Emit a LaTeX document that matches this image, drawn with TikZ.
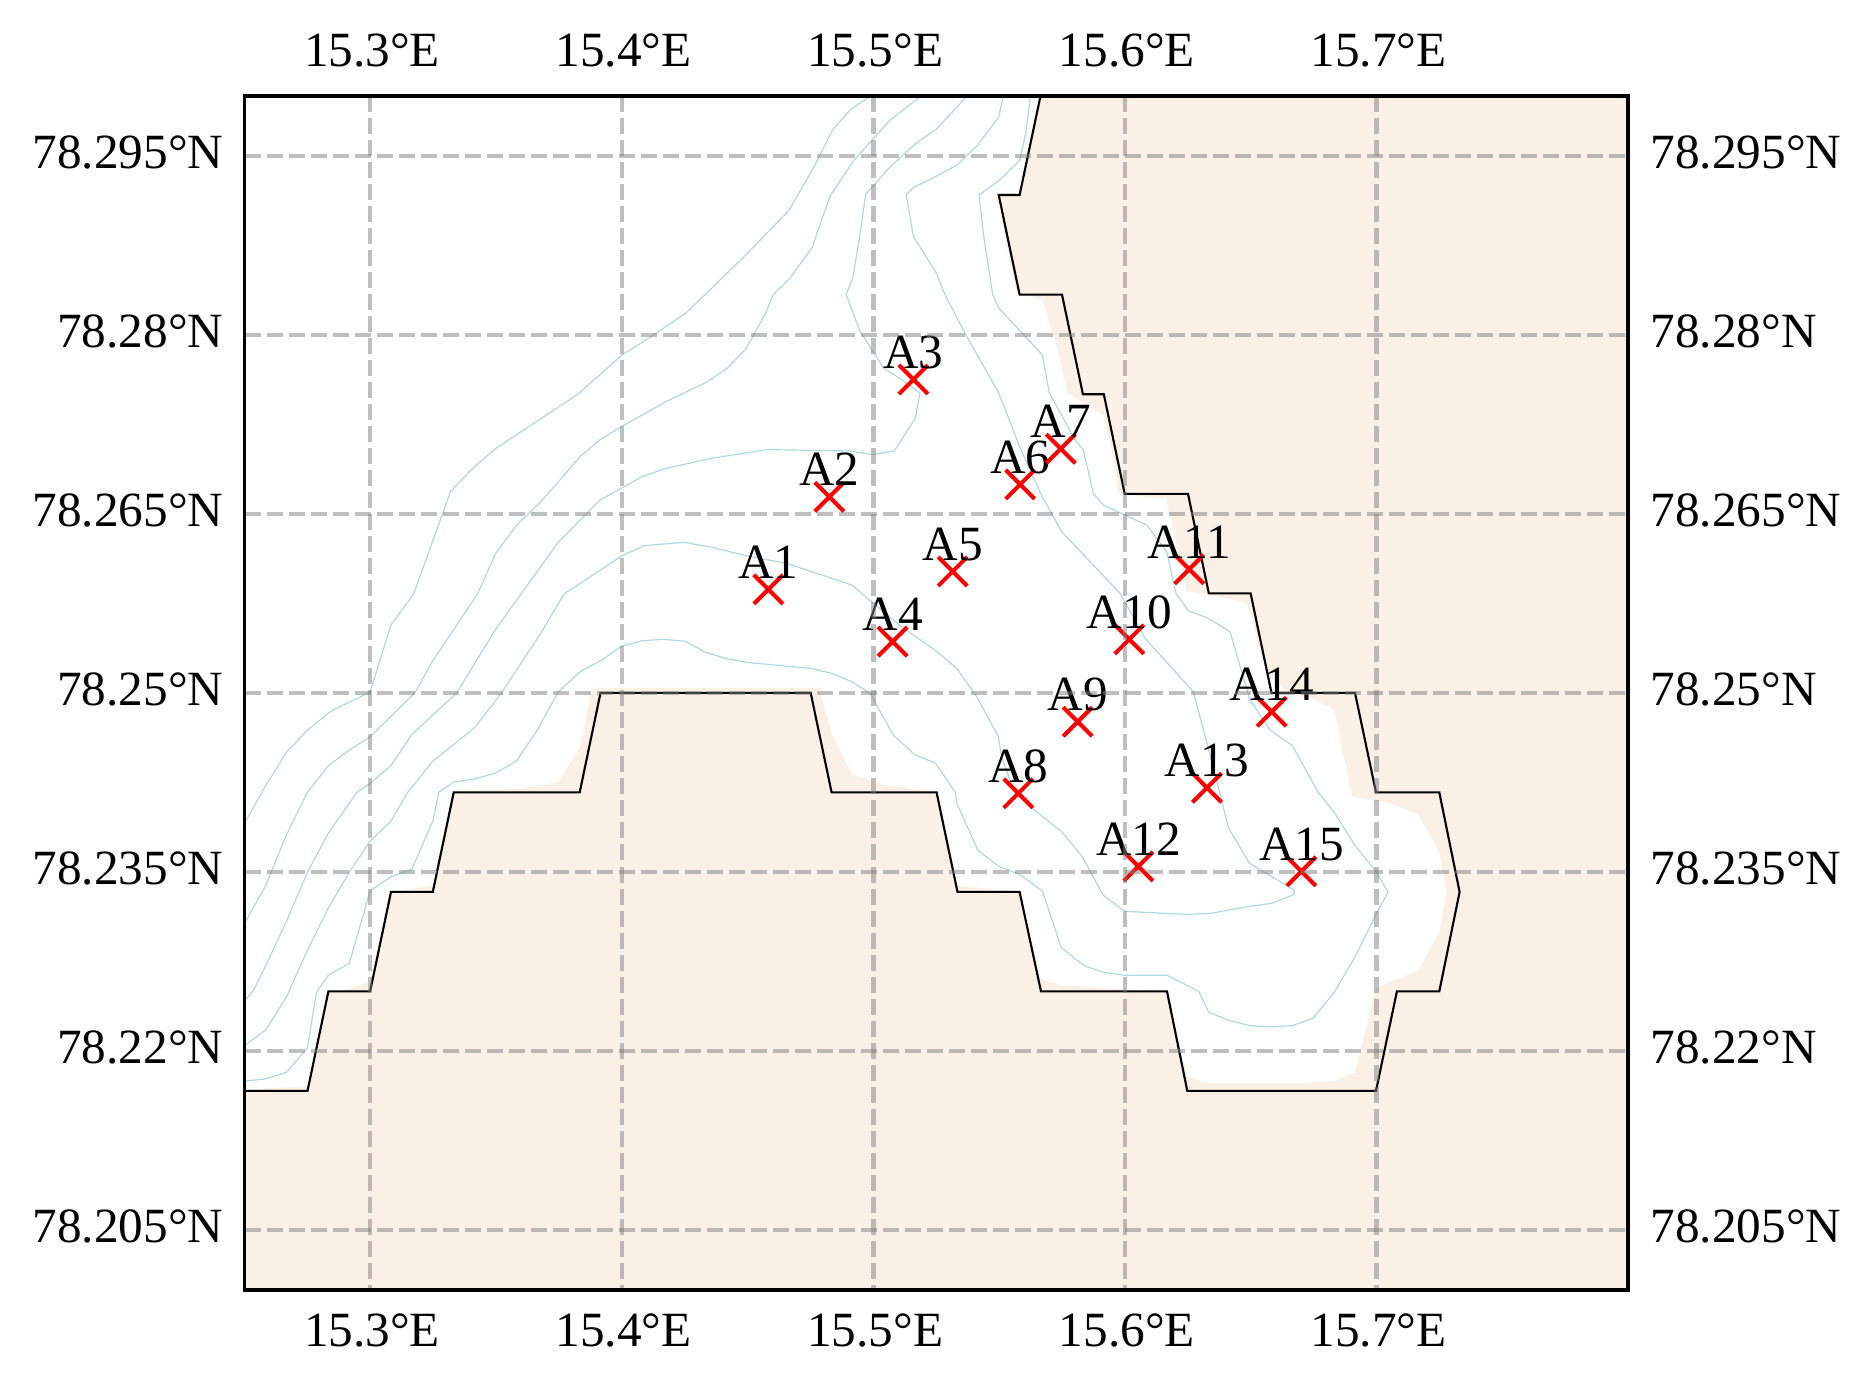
\documentclass[tikz,border=0pt]{standalone}
\usepackage{fontspec}
\setmainfont{Liberation Serif}
\usetikzlibrary{shapes.misc}
\definecolor{landcolor}{HTML}{FAF0E6}
\definecolor{depthcolor}{HTML}{ADD8E6}
\tikzset{
  every node/.style={inner sep=0pt, font=\fontsize{14}{16}\selectfont},
  landfill/.style={fill=landcolor, draw=none},
  waterfill/.style={fill=white, draw=none},
  domainline/.style={draw=black, line width=0.6pt, line join=miter},
  depthline/.style={draw=depthcolor, line width=0.33pt, line join=round},
  gridline/.style={draw=gray, draw opacity=0.5, line width=1.25pt, dash pattern=on 4.55pt off 1.71pt},
  frameline/.style={draw=black, line width=1pt},
  site/.style={cross out, draw=red, line width=1.15pt, minimum size=0.25cm},
  sitelabel/.style={anchor=base, text=black}
}
\begin{document}
\begin{tikzpicture}[x=0.01cm, y=-0.01cm]
\useasboundingbox (0,0) rectangle (1872,1387);

\fill [landfill] (244.5,96) rectangle (1628,1290);
\fill [waterfill] (244.5,96) -- (1040.5,96) -- (1019.6,193) -- (998.7,193) -- (1004.7,236.6) -- (1016.6,292.4) -- (1042.3,300) -- (1058.4,352.7) -- (1067.3,392.9) -- (1103,415) -- (1116.9,473) -- (1116.9,491) -- (1124.7,494.6) -- (1165.9,499) -- (1173.6,531) -- (1186.7,591.5) -- (1208.8,594.6) -- (1246.4,602.7) -- (1267.3,674) -- (1288,692.9) -- (1312,699) -- (1334.2,710) -- (1352.1,796.7) -- (1389.7,803.3) -- (1418.4,814.4) -- (1439.3,852.2) -- (1446.4,892.2) -- (1439.3,932.2) -- (1418.4,970) -- (1376,987.8) -- (1355.1,1072.2) -- (1334.2,1081) -- (1294.2,1083.3) -- (1208.8,1083.3) -- (1187.3,1076.7) -- (1167,992) -- (1085.3,986.9) -- (1061.4,985.6) -- (1041,978.9) -- (1019.6,891.8) -- (989.7,888.7) -- (957.5,885.6) -- (936.6,792.4) -- (883.6,784.7) -- (852.5,774.4) -- (832.8,736.7) -- (820.9,694.4) -- (820.9,687.5) -- (597,687.5) -- (591,692) -- (579.7,747.8) -- (558.2,782) -- (519.4,788.7) -- (453.7,791.3) -- (432.8,885.6) -- (391,891.8) -- (370.1,981) -- (349.3,988.7) -- (328.4,991.3) -- (307.5,1086.9) -- (268.7,1087.8) -- (244.5,1090.9) -- cycle;

\draw [depthline] (868.7,97.3) -- (850.7,109.4) -- (832.8,129.5) -- (814.9,165.2) -- (789.3,209.8) -- (746.3,254.5) -- (686.6,312.5) -- (650.7,337) -- (622,354.9) -- (577.9,394.2) -- (495.5,448.7) -- (474.6,466.5) -- (450.7,491.1) -- (413.7,593.8) -- (391,625) -- (370.1,692) -- (331.3,710.9) -- (307.5,730) -- (286.6,752.2) -- (265.7,785.6) -- (244.5,823.3);
\draw [depthline] (919.4,97.3) -- (889.6,120.5) -- (853.7,160.7) -- (829.9,196.4) -- (811.9,247.8) -- (789.3,279) -- (773.1,294.6) -- (766,312.5) -- (746.3,348.2) -- (727.2,368.3) -- (705.7,382.6) -- (665.7,401.8) -- (622,426.3) -- (600,439.7) -- (580.3,456.3) -- (558.2,482.1) -- (540.3,502.2) -- (516.4,525.4) -- (495.5,553.6) -- (477.6,593.8) -- (432.8,660.7) -- (414.9,692.9) -- (370.1,736.7) -- (349.3,750) -- (328.4,765.6) -- (307.5,792.2) -- (286.6,834.4) -- (265.7,885.6) -- (244.5,923.3);
\draw [depthline] (965.9,97.3) -- (936,129.5) -- (916.4,142.9) -- (889.6,167.4) -- (865.7,194.2) -- (859.7,236.6) -- (852.5,279) -- (846,294.6) -- (859.7,330.4) -- (883.6,368.3) -- (901.5,379.5) -- (920,392.9) -- (915.2,418.3) -- (894.3,450.9) -- (872.8,454.5) -- (847.8,450.9) -- (767.2,449.6) -- (710.4,458.5) -- (664.5,468.8) -- (643,476.3) -- (600,500) -- (558.2,542.4) -- (537.3,571.4) -- (495.5,629.5) -- (456.7,692.9) -- (411.9,734.4) -- (391,765.6) -- (370.1,783.3) -- (357,792.2) -- (328.4,833.1) -- (307.5,872.2) -- (286.6,921.1) -- (265.7,965.6) -- (253.7,990) -- (244.5,1001.1);
\draw [depthline] (1002.9,97.3) -- (998.7,117) -- (977.8,145.1) -- (956.9,165.2) -- (936,176.3) -- (913.4,187.5) -- (906.3,195) -- (913.4,236.6) -- (936,272.3) -- (945,294.6) -- (965.9,334.8) -- (998.7,392.9) -- (1019.6,446.4) -- (1040.5,493.3) -- (1061.4,531.3) -- (1120,593.3) -- (1145,638.3) -- (1193.3,691.7) -- (1208.8,750) -- (1228.5,827.8) -- (1249.4,863.3) -- (1294.2,890) -- (1294.2,894.4) -- (1271.5,903.3) -- (1249.4,906.4) -- (1208.8,913.6) -- (1186.7,914.4) -- (1124.7,911.3) -- (1103.2,895.3) -- (1082.3,856.7) -- (1061.7,831.7) -- (1030,806.7) -- (1013.3,790) -- (1001.7,756.7) -- (998.3,736.7) -- (976.7,696.7) -- (956.7,668.3) -- (935,650) -- (903.3,628.3) -- (871.7,601.7) -- (851.7,585) -- (786.7,563.3) -- (746.3,555.8) -- (710.4,546.9) -- (683.6,542.4) -- (644.8,545.5) -- (622,555.8) -- (564.2,593.8) -- (540.3,633.9) -- (501.5,692.9) -- (474.6,727.8) -- (432.8,761.1) -- (407.8,792.2) -- (391,821.1) -- (370.1,841.1) -- (349.3,872.2) -- (328.4,907.8) -- (307.5,950) -- (286.6,996.7) -- (265.7,1030) -- (244.5,1045.6);
\draw [depthline] (1030.3,97.3) -- (1025.6,133.9) -- (1019.6,160.7) -- (998.7,180.8) -- (979,195) -- (983.8,236.6) -- (992.7,294.6) -- (998.7,308) -- (1019.6,330.4) -- (1042.3,354.9) -- (1049.4,392.9) -- (1075,440) -- (1083.3,450) -- (1093.3,493.3) -- (1103.3,505) -- (1125,515) -- (1146.7,525) -- (1166.7,551.7) -- (1176,593.3) -- (1188.3,610.7) -- (1208.3,618.3) -- (1230,631.7) -- (1250,700) -- (1270,730) -- (1292.4,745.6) -- (1318.1,792.2) -- (1334.2,812.2) -- (1355.1,845.6) -- (1376,871.3) -- (1388,892.2) -- (1376,914.4) -- (1355.1,956.7) -- (1334.2,992.2) -- (1313.3,1018) -- (1292.4,1025.6) -- (1270.3,1026.9) -- (1249.4,1025.6) -- (1228.5,1020.2) -- (1208.8,1012.2) -- (1198.7,991.3) -- (1167,975.3) -- (1124.7,975.3) -- (1103,972.2) -- (1084,965.6) -- (1061.4,947.8) -- (1042.3,890.9) -- (1019.6,874.4) -- (998.7,866.4) -- (977.8,850) -- (956.7,803) -- (955,791.7) -- (935.7,763.3) -- (914.3,754.3) -- (893.3,735) -- (870,693.3) -- (851.7,681.7) -- (831.7,673.3) -- (810,668.3) -- (750,662.7) -- (726.7,658.7) -- (705.7,652.3) -- (685,641.3) -- (663.3,639.3) -- (642.7,640.7) -- (621.7,646) -- (601.7,660) -- (580,671.7) -- (558.2,692) -- (537.3,730) -- (516.4,761.1) -- (495.5,773) -- (474.6,778.9) -- (453.7,782) -- (438.8,792.2) -- (432.8,821.1) -- (411.9,869.1) -- (391,876.7) -- (370.1,890.9) -- (349.3,963.3) -- (328.4,975.3) -- (316.4,992.2) -- (307.5,1047.8) -- (286.6,1072.2) -- (265.7,1078.9) -- (244.5,1081.1);

\draw [domainline] (244.5,1090.9) -- (307.5,1090.9) -- (328.4,991.4) -- (370.1,991.4) -- (391,891.9) -- (432.8,891.9) -- (453.7,792.4) -- (579.7,792.4) -- (600.5,692.9) -- (810.7,692.9) -- (831.6,792.4) -- (936.6,792.4) -- (957.5,891.9) -- (1019.6,891.9) -- (1041,991.4) -- (1167,991.4) -- (1187.3,1090.9) -- (1376,1090.9) -- (1396.9,991.4) -- (1439.3,991.4) -- (1459.6,891.9) -- (1439.3,792.4) -- (1376,792.4) -- (1355,692.9) -- (1271.5,692.9) -- (1250.6,593.3) -- (1208.8,593.3) -- (1188,493.8) -- (1124.7,493.8) -- (1103.8,394.2) -- (1082.9,394.2) -- (1062,294.6) -- (1019.6,294.6) -- (998.7,195) -- (1019.6,195) -- (1040.5,96);

\foreach \name/\x/\y in {A1/768.4/589.3, A2/829.3/496.9, A3/913.4/379.5, A4/892.6/641.6, A5/952.7/571.4, A6/1020.2/484.4, A7/1060.8/448.7, A8/1018.3/793.3, A9/1077.7/721.7, A10/1129.3/639.3, A11/1189.2/569.3, A12/1138.4/866.4, A13/1207/787.8, A14/1271.7/711.7, A15/1301.4/871.3} {
  \node [site] (\name) at (\x,\y) {};
  \node [sitelabel] (label\name) at ([yshift=0.11cm]\name.center) {\name};
}

\foreach \lon/\x in {15.3/370, 15.4/621.7, 15.5/873.3, 15.6/1124.9, 15.7/1376.5} {
  \draw [gridline] (\x,96) -- (\x,1290);
  \node [anchor=base] (top\lon) at (\x+2,66) {\lon\textdegree E};
  \node [anchor=base] (bottom\lon) at (\x+2,1346.5) {\lon\textdegree E};
}
\foreach \lat/\y in {78.295/155.7, 78.28/334.7, 78.265/513.7, 78.25/692.7, 78.235/871.7, 78.22/1050.7, 78.205/1229.7} {
  \draw [gridline] (244.5,\y) -- (1628,\y);
  \node [anchor=base east] (left\lat) at (224,\y+13) {\lat\textdegree N};
  \node [anchor=base west] (right\lat) at (1650,\y+13) {\lat\textdegree N};
}

\draw [frameline] (244.5,96) rectangle (1628,1290);
\end{tikzpicture}
\end{document}
